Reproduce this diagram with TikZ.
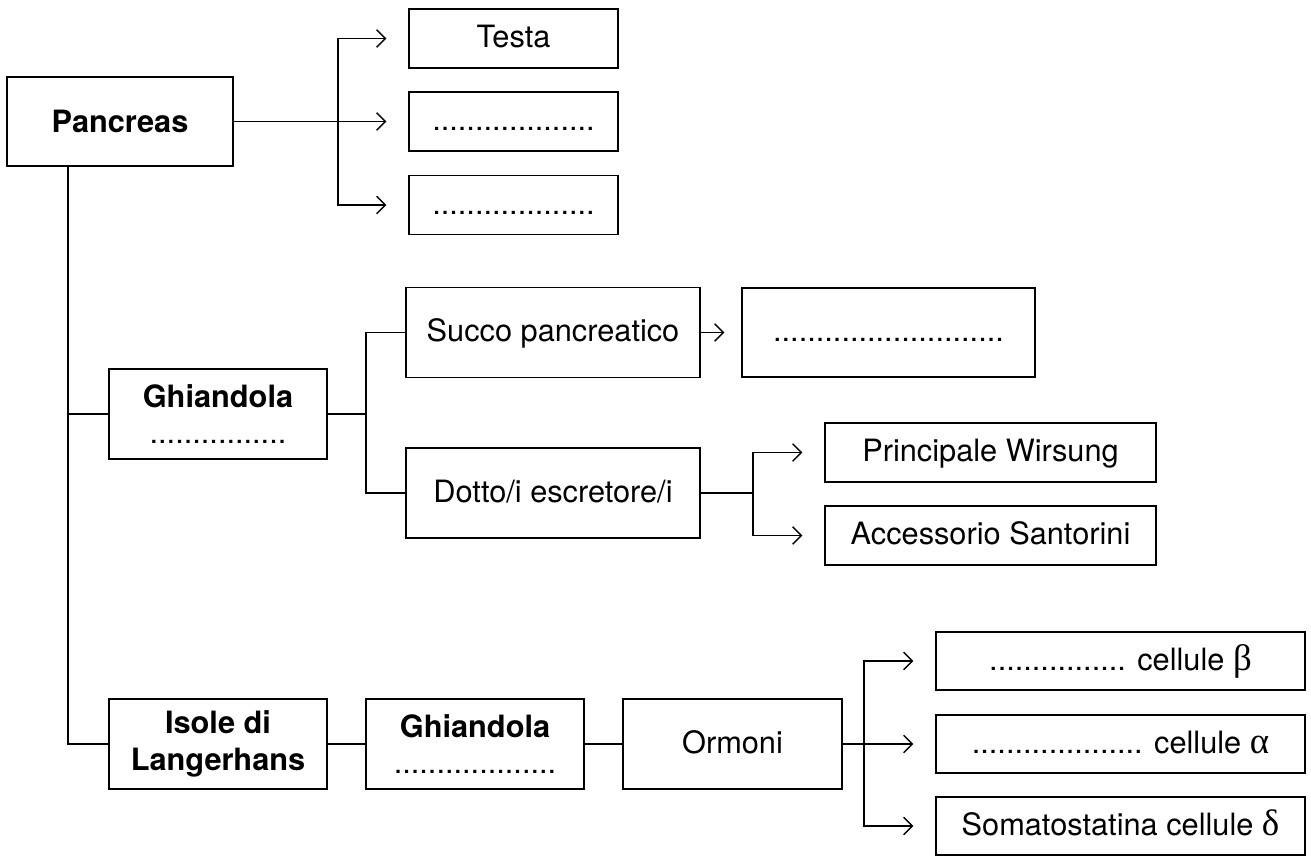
\documentclass[tikz,border=0pt]{standalone}
\usepackage{fontspec}
\setmainfont{TeX Gyre Heros}
\newfontfamily\grk[Scale=1.2]{Liberation Serif}
\usetikzlibrary{arrows.meta, calc}

\begin{document}
\begin{tikzpicture}[x=0.02cm, y=-0.02cm, line width=0.8pt,
            bx/.style={draw, inner sep=0pt, font=\fontsize{17.5}{21}\selectfont, text height=13pt, text depth=2.5pt},
            hd/.style={draw, inner sep=0pt, align=center, font=\fontsize{17.5}{21}\selectfont\bfseries},
            arr/.style={-{Straight Barb[length=5pt, width=10pt]}, shorten >=0.44cm}]
            \useasboundingbox (0,0) rectangle (1311,856);
            % Pancreas
            \node[hd, minimum width=4.52cm, minimum height=1.78cm] (pan) at (120,121.5) {Pancreas};
            \node[bx, minimum width=4.18cm, minimum height=1.18cm] (testa) at (513.5,38.5) {Testa};
            \node[bx, minimum width=4.18cm, minimum height=1.18cm] (corpo) at (513.5,121.5) {...................};
            \node[bx, minimum width=4.18cm, minimum height=1.18cm] (coda) at (513.5,205) {...................};
            \coordinate (f1) at (338,121.5);
            \draw[arr] (pan.east) -- (corpo.west);
            \draw[arr] (f1) |- (testa.west);
            \draw[arr] (f1) |- (coda.west);
            % Trunk
            \coordinate (tr) at (68,166);
            % Ghiandola esocrina
            \node[hd, minimum width=4.36cm, minimum height=1.8cm] (gh1) at (218,414) {Ghiandola\\{\mdseries ................}};
            \node[bx, minimum width=5.88cm, minimum height=1.8cm] (succo) at (553,332.5) {Succo pancreatico};
            \node[bx, minimum width=5.86cm, minimum height=1.78cm] (enzimi) at (888.5,332.5) {...........................};
            \node[bx, minimum width=5.88cm, minimum height=1.8cm] (dotto) at (553,493) {Dotto/i escretore/i};
            \node[bx, minimum width=6.62cm, minimum height=1.18cm] (wirs) at (990.5,452.5) {Principale Wirsung};
            \node[bx, minimum width=6.62cm, minimum height=1.18cm] (sant) at (990.5,535.5) {Accessorio Santorini};
            \coordinate (f2) at (366,414);
            \coordinate (f3) at (753,493);
            \draw (tr) |- (gh1.west);
            \draw (gh1.east) -- (f2) |- (succo.west);
            \draw (f2) |- (dotto.west);
            \draw[arr, shorten >=0.34cm] (succo.east) -- (enzimi.west);
            \draw (dotto.east) -- (f3);
            \draw[arr] (f3) |- (wirs.west);
            \draw[arr] (f3) |- (sant.west);
            % Isole di Langerhans
            \node[hd, minimum width=4.36cm, minimum height=1.8cm] (isole) at (218,744) {Isole di\\Langerhans};
            \node[hd, minimum width=4.36cm, minimum height=1.8cm] (gh2) at (475,744) {Ghiandola\\{\mdseries ...................}};
            \node[bx, minimum width=4.38cm, minimum height=1.8cm] (orm) at (732.5,744) {Ormoni};
            \node[bx, minimum width=7.38cm, minimum height=1.16cm] (beta) at (1120.5,661) {................ cellule {\grk β}};
            \node[bx, minimum width=7.38cm, minimum height=1.16cm] (alpha) at (1120.5,744) {.................... cellule {\grk α}};
            \node[bx, minimum width=7.38cm, minimum height=1.16cm] (delta) at (1120.5,826) {Somatostatina cellule {\grk δ}};
            \coordinate (f4) at (864,744);
            \draw (tr) |- (isole.west);
            \draw (isole) -- (gh2);
            \draw (gh2) -- (orm);
            \draw[arr] (orm.east) -- (alpha.west);
            \draw[arr] (f4) |- (beta.west);
            \draw[arr] (f4) |- (delta.west);
        \end{tikzpicture}
\end{document}
